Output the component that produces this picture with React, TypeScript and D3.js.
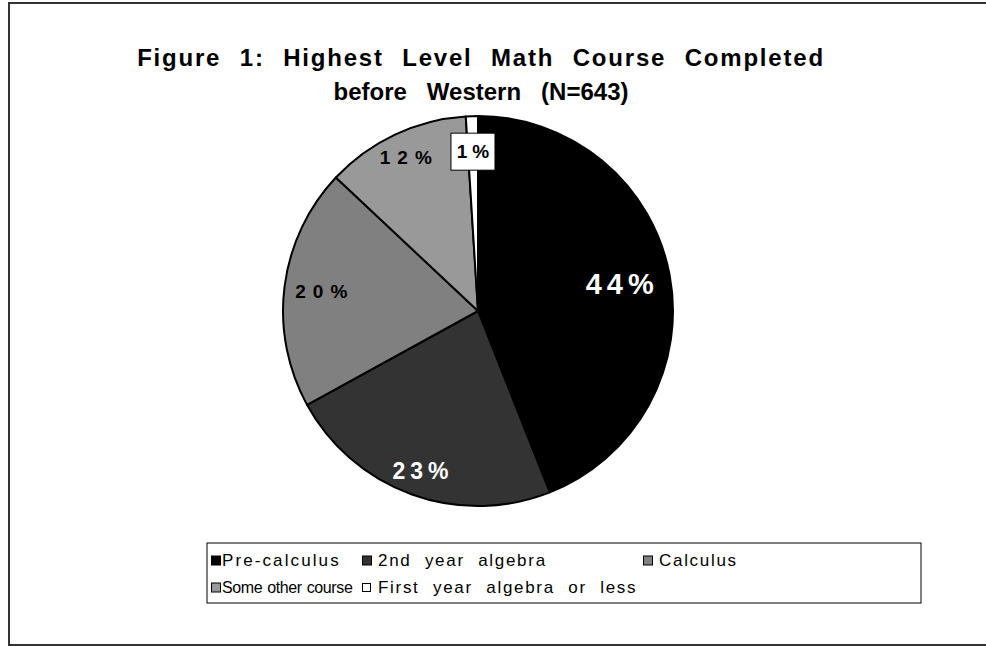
import * as d3 from "d3"

const categories = ["Pre-calculus", "2nd year algebra", "Calculus", "Some other course", "First year algebra or less"]
const percents = [44, 23, 20, 12, 1]
const titleLines = ["Figure 1: Highest Level Math Course Completed", "before   Western   (N=643)"]

const fills = ["#000000", "#333333", "#808080", "#999999", "#ffffff"]
const labelColors = ["#fff", "#fff", "#000", "#000", "#000"]
const labelFactor = [0.74, 0.87, 0.81, 0.87, 0.82]
const labelSize = [29, 23, 19, 19, 19]
const labelSpacing = [5, 5, 7, 7, 5]
const titleLetterSpacing = [1.8, 0]
const titleWordSpacing = [10, 0]
const legendFont = [17, 17, 17, 16, 17]
const legendLetterSpacing = [2.1, 1.7, 1.7, -0.4, 1.7]
const legendWordSpacing = [7, 7, 7, 1, 7]

const W = 986
const H = 646
const cx = 478
const cy = 311
const radius = 195

export default function App() {
  const pie = d3
    .pie<number>()
    .sort(null)
    .value((d) => d)
  const arcs = pie(percents)
  const arc = d3.arc<d3.PieArcDatum<number>>().innerRadius(0).outerRadius(radius)

  // legend layout: 3 columns, 2 rows
  const colX = [211, 362, 643]
  const colTextX = [222, 378, 659]
  const rowY = [560, 587]

  return (
    <svg width={W} height={H} style={{ position: "absolute", left: 0, top: 0, background: "#fff" }}>
      <rect x={9} y={3} width={1000} height={642} fill="#fff" stroke="#333" strokeWidth={2} />

      <g fontFamily="Liberation Sans, Arial, sans-serif" fontWeight="bold" fontSize={24} textAnchor="middle" fill="#000">
        {titleLines.map((t, i) => (
          <text
            key={i}
            x={481}
            y={66 + i * 34}
            letterSpacing={titleLetterSpacing[i]}
            wordSpacing={titleWordSpacing[i]}
            style={{ whiteSpace: "pre" }}
          >
            {t}
          </text>
        ))}
      </g>

      <g transform={`translate(${cx},${cy})`}>
        {arcs.map((a, i) => (
          <path key={i} d={arc(a) || ""} fill={fills[i]} stroke="#000" strokeWidth={2} strokeLinejoin="round" />
        ))}
        {arcs.map((a, i) => {
          const lr = radius * labelFactor[i]
          const [lx, ly] = d3.arc<d3.PieArcDatum<number>>().innerRadius(lr).outerRadius(lr).centroid(a)
          const txt = `${percents[i]}%`
          const boxed = i === 4
          return (
            <g key={i} transform={`translate(${lx},${ly})`}>
              {boxed && <rect x={-22} y={-18} width={44} height={37} fill="#fff" stroke="#000" strokeWidth={1} />}
              <text
                textAnchor="middle"
                dy="0.36em"
                fontFamily="Liberation Sans, Arial, sans-serif"
                fontWeight="bold"
                fontSize={labelSize[i]}
                letterSpacing={labelSpacing[i]}
                dx={labelSpacing[i] / 2}
                fill={labelColors[i]}
              >
                {txt}
              </text>
            </g>
          )
        })}
      </g>

      <rect x={207} y={543} width={714} height={60} fill="#fff" stroke="#000" strokeWidth={1} />
      <g fontFamily="Liberation Sans, Arial, sans-serif" fill="#000">
        {categories.map((c, i) => {
          const col = i % 3
          const row = Math.floor(i / 3)
          const y = rowY[row]
          const s = i === 4 ? 8 : 9
          return (
            <g key={c}>
              <rect x={colX[col] + 0.5} y={y - s / 2 + 0.5} width={s} height={s} fill={fills[i]} stroke="#000" strokeWidth={1} />
              <text
                x={colTextX[col]}
                y={y + 6}
                fontSize={legendFont[i]}
                letterSpacing={legendLetterSpacing[i]}
                wordSpacing={legendWordSpacing[i]}
              >
                {c}
              </text>
            </g>
          )
        })}
      </g>
    </svg>
  )
}
